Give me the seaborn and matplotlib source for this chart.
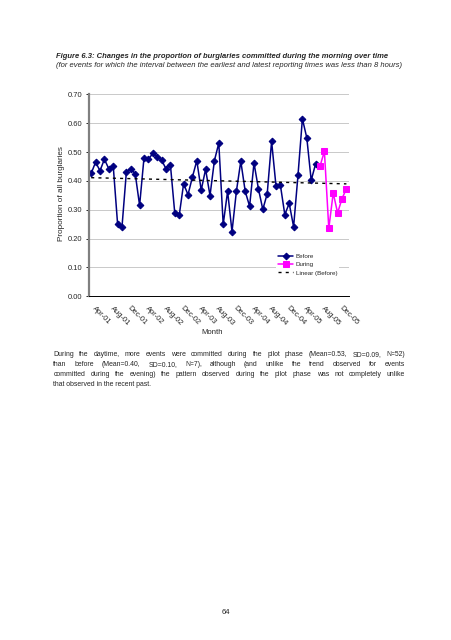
import numpy as np
import pandas as pd
import matplotlib
matplotlib.use('Agg')
import matplotlib.pyplot as plt
import seaborn as sns

# monthly proportions, Apr-01 .. Jul-05 (before) and Aug-05 .. Feb-06 (during)
before = [0.426, 0.465, 0.435, 0.475, 0.442, 0.453, 0.250, 0.241, 0.432, 0.441,
          0.425, 0.315, 0.480, 0.475, 0.495, 0.484, 0.472, 0.442, 0.456, 0.287,
          0.280, 0.390, 0.352, 0.413, 0.470, 0.368, 0.440, 0.349, 0.470, 0.531,
          0.249, 0.364, 0.224, 0.364, 0.468, 0.364, 0.312, 0.462, 0.373, 0.301,
          0.355, 0.537, 0.382, 0.385, 0.283, 0.322, 0.241, 0.420, 0.615, 0.549,
          0.402, 0.459]
during = [0.451, 0.502, 0.235, 0.358, 0.289, 0.338, 0.373]
tick_labels = ['Apr-01', 'Aug-01', 'Dec-01', 'Apr-02', 'Aug-02', 'Dec-02',
               'Apr-03', 'Aug-03', 'Dec-03', 'Apr-04', 'Aug-04', 'Dec-04',
               'Apr-05', 'Aug-05', 'Dec-05']
y_ticks = [0.0, 0.1, 0.2, 0.3, 0.4, 0.5, 0.6, 0.7]

title = 'Figure 6.3: Changes in the proportion of burglaries committed during the morning over time'
subtitle = '(for events for which the interval between the earliest and latest reporting times was less than 8 hours)'
paragraph = [
    'During the daytime, more events were committed during the pilot phase (Mean=0.53, SD=0.09, N=52)',
    'than before (Mean=0.40, SD=0.10, N=7), although (and unlike the trend observed for events',
    'committed during the evening) the pattern observed during the pilot phase was not completely unlike',
    'that observed in the recent past.',
]

sns.set_style('white')
plt.rcParams['font.family'] = ['Liberation Sans', 'DejaVu Sans']

W, H = 452, 640
fig = plt.figure(figsize=(W / 100, H / 100), dpi=100)


def fx(px):
    return px / W


def fy(py):
    return 1 - py / H


ax = fig.add_axes([fx(89), fy(296.3), fx(348.6) - fx(89), fy(94.3) - fy(296.3)])

n_before = len(before)
n_total = n_before + len(during)
df_before = pd.DataFrame({'month': np.arange(n_before), 'value': before})
df_during = pd.DataFrame({'month': np.arange(n_before, n_total), 'value': during})

coef = np.polyfit(df_before['month'], df_before['value'], 1)
df_trend = pd.DataFrame({'month': np.arange(n_total)})
df_trend['value'] = np.polyval(coef, df_trend['month'])

sns.lineplot(data=df_before, x='month', y='value', ax=ax, color='#000080',
             marker='D', markersize=3.4, markeredgecolor='#000080',
             linewidth=1.1, label='Before')
sns.lineplot(data=df_during, x='month', y='value', ax=ax, color='#FF00FF',
             marker='s', markersize=3.8, markeredgecolor='#FF00FF',
             linewidth=1.1, label='During')
sns.lineplot(data=df_trend, x='month', y='value', ax=ax, color='black',
             linestyle=(0, (2.2, 3)), linewidth=1.0, label='Linear (Before)')

ax.set_xlim(-0.5, n_total - 0.5)
ax.set_ylim(0, 0.7)
ax.set_yticks(y_ticks)
ax.set_yticklabels([f'{v:.2f}' for v in y_ticks], fontsize=5.4)
ax.set_xticks(np.arange(0, 4 * len(tick_labels), 4))
ax.set_xticklabels(tick_labels, rotation=-45, ha='left', va='top',
                   fontsize=5.4)
ax.set_xticks(np.arange(-0.5, n_total, 4), minor=True)
ax.tick_params(axis='x', which='major', length=0, pad=6)
ax.tick_params(axis='x', which='minor', length=2.5, width=0.6, color='black',
               direction='out')
ax.tick_params(axis='y', length=2.5, width=0.6, color='black', direction='out',
               pad=2, left=True)
ax.set_xlabel('')
ax.set_ylabel('')

ax.grid(axis='y', color='#c0c0c0', linewidth=0.6)
ax.set_axisbelow(True)
for side in ['top', 'right']:
    ax.spines[side].set_visible(False)
ax.spines['left'].set_color('#808080')
ax.spines['left'].set_linewidth(1.6)
ax.spines['bottom'].set_color('black')
ax.spines['bottom'].set_linewidth(0.7)

leg = ax.legend(loc='upper left', bbox_to_anchor=(0.71, 0.235), fontsize=4.5,
                frameon=True, framealpha=1, edgecolor='none', facecolor='white',
                fancybox=False, handlelength=2.4, handletextpad=0.4,
                labelspacing=0.45, borderpad=0.3, numpoints=1)

fig.text(fx(62), fy(194), 'Proportion of all burglaries', rotation=90,
         ha='center', va='center', fontsize=5.9)
fig.text(fx(212.5), fy(333), 'Month', ha='center', va='center', fontsize=5.6)

fig.text(fx(55.7), fy(56.5), title, ha='left', va='center', fontsize=5.5,
         fontweight='bold', fontstyle='italic')
fig.text(fx(55.7), fy(65.7), subtitle, ha='left', va='center', fontsize=5.5,
         fontstyle='italic')

fig.text(fx(226), fy(613), '64', ha='center', va='center', fontsize=5.6)

# justified paragraph below the chart
x0, x1 = 53.3, 405.0
para_size = 4.95
rows = []
for i, line in enumerate(paragraph):
    y = fy(354.7 + i * 10)
    if i == len(paragraph) - 1:
        fig.text(fx(x0), y, line, ha='left', va='center', fontsize=para_size)
        continue
    rows.append([fig.text(fx(x0), y, w, ha='left', va='center',
                          fontsize=para_size) for w in line.split()])

fig.canvas.draw()
renderer = fig.canvas.get_renderer()
for texts in rows:
    widths = [t.get_window_extent(renderer=renderer).width for t in texts]
    gap = (x1 - x0 - sum(widths)) / (len(texts) - 1)
    pos = x0
    for t, w in zip(texts, widths):
        t.set_x(fx(pos))
        pos += w + gap

fig.savefig('out.png', dpi=100)
